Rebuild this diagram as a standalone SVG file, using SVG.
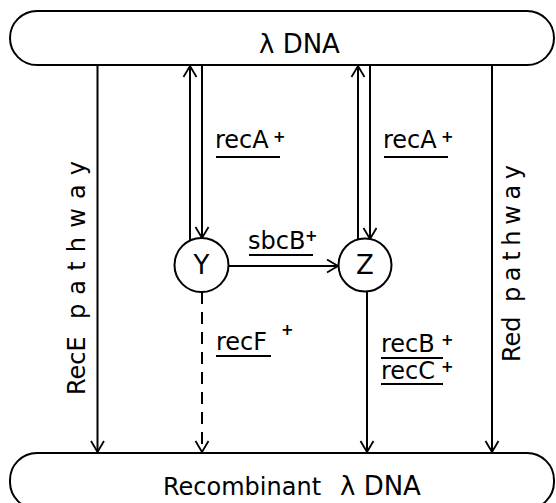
<svg xmlns="http://www.w3.org/2000/svg" width="556" height="503" viewBox="0 0 556 503">
<style>
.box{fill:#fff;stroke:#000;stroke-width:2}
.node{fill:#fff;stroke:#000;stroke-width:2}
.c{fill:none;stroke:#000;stroke-width:2}
.d{fill:none;stroke:#000;stroke-width:2;stroke-dasharray:12 8}
.ul{stroke:#000;stroke-width:2}
text{font-family:"DejaVu Sans","Liberation Sans",sans-serif;font-size:24px;fill:#000}
.big{font-size:26px}
.sup{font-size:15px;font-weight:bold}
</style>
<defs>
<marker id="ah" markerWidth="14" markerHeight="14" refX="12" refY="7" orient="auto" markerUnits="userSpaceOnUse" viewBox="0 0 14 14" overflow="visible">
<path d="M1,0.5 L12,7 L1,13.5" fill="none" stroke="#000" stroke-width="1.8"/>
</marker>
</defs>
<g id="connectors">
<line class="c" x1="97.5" y1="65" x2="97.5" y2="452" marker-end="url(#ah)"/>
<line class="c" x1="190" y1="240" x2="190" y2="66" marker-end="url(#ah)"/>
<line class="c" x1="202" y1="65" x2="202" y2="238" marker-end="url(#ah)"/>
<line class="c" x1="358" y1="239" x2="358" y2="66" marker-end="url(#ah)"/>
<line class="c" x1="370" y1="65" x2="370" y2="239" marker-end="url(#ah)"/>
<line class="c" x1="228.5" y1="266" x2="338" y2="266" marker-end="url(#ah)"/>
<line class="d" x1="202" y1="292" x2="202" y2="452" marker-end="url(#ah)"/>
<line class="c" x1="367" y1="292" x2="367" y2="452" marker-end="url(#ah)"/>
<line class="c" x1="492" y1="65" x2="492" y2="452" marker-end="url(#ah)"/>
</g>
<g id="lambda-dna">
<rect class="box" x="10" y="11" width="544" height="54" rx="27" ry="27"/>
<text class="big" x="259" y="53">λ DNA</text>
</g>
<g id="recombinant-dna">
<rect class="box" x="10" y="453" width="544" height="56" rx="27" ry="27"/>
<text x="163" y="495">Recombinant<tspan class="big" x="340">λ DNA</tspan></text>
</g>
<g id="node-y">
<circle class="node" cx="201.5" cy="265" r="27"/>
<text class="big" x="201.5" y="274" text-anchor="middle">Y</text>
</g>
<g id="node-z">
<circle class="node" cx="365" cy="265" r="26.5"/>
<text class="big" x="365" y="274" text-anchor="middle">Z</text>
</g>
<g id="labels">
<text x="215" y="148">recA</text><text class="sup" x="273" y="142">+</text>
<line class="ul" x1="216" y1="157" x2="280" y2="157"/>
<text x="383" y="148">recA</text><text class="sup" x="441" y="142">+</text>
<line class="ul" x1="384" y1="157" x2="448" y2="157"/>
<text x="248" y="249">sbcB</text><text class="sup" x="305" y="241">+</text>
<line class="ul" x1="249" y1="255" x2="313" y2="255"/>
<text x="216" y="350">recF</text><text class="sup" x="281" y="335">+</text>
<line class="ul" x1="216" y1="356" x2="271" y2="356"/>
<text x="381" y="352">recB</text><text class="sup" x="441" y="345">+</text>
<line class="ul" x1="381" y1="358" x2="443" y2="358"/>
<text x="381" y="379">recC</text><text class="sup" x="441" y="372">+</text>
<line class="ul" x1="381" y1="384" x2="443" y2="384"/>
<text transform="translate(85,395) rotate(-90)">RecE<tspan x="76" textLength="158" lengthAdjust="spacing">pathway</tspan></text>
<text transform="translate(520,362) rotate(-90)">Red<tspan x="60" textLength="137" lengthAdjust="spacing">pathway</tspan></text>
</g>
</svg>
